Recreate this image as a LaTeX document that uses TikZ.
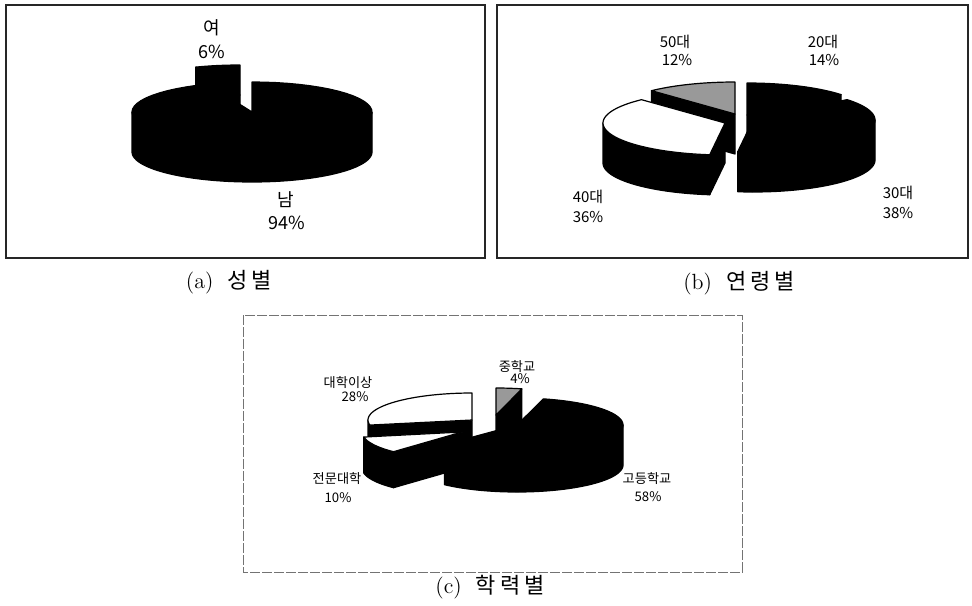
\documentclass[tikz,border=0pt]{standalone}
\usepackage{fontspec}
\newfontfamily\kr{Noto Sans CJK KR}
\newcommand\setpie[5]{\def\pcx{#1}\def\pcy{#2}\def\prx{#3}\def\pry{#4}\def\ph{#5}}
\newcommand\ptop[3]{%
  \filldraw[fill=#3,slice] ({\pcx},{\pcy}) -- plot[domain=#1:#2,samples=60] ({\pcx+\prx*cos(\x)},{\pcy-\pry*sin(\x)}) -- cycle;}
\newcommand\pside[3]{%
  \filldraw[fill=#3,slice] plot[domain=#1:#2,samples=60] ({\pcx+\prx*cos(\x)},{\pcy-\pry*sin(\x)}) -- plot[domain=#2:#1,samples=60] ({\pcx+\prx*cos(\x)},{\pcy+\ph-\pry*sin(\x)}) -- cycle;}
\newcommand\pcut[2]{%
  \filldraw[fill=#2,slice] ({\pcx},{\pcy}) -- ({\pcx+\prx*cos(#1)},{\pcy-\pry*sin(#1)}) -- ({\pcx+\prx*cos(#1)},{\pcy+\ph-\pry*sin(#1)}) -- ({\pcx},{\pcy+\ph}) -- cycle;}
\begin{document}
\begin{tikzpicture}[x=0.5pt,y=-0.5pt,
  slice/.style={draw=black,line width=0.6pt,line join=round},
  frameab/.style={draw=black!85,line width=0.7pt},
  framec/.style={draw=black!55,line width=0.5pt,dash pattern=on 5pt off 1pt},
  lbla/.style={font=\kr\fontsize{9}{9}\selectfont,inner sep=0pt},
  lblb/.style={font=\kr\fontsize{7.5}{7.5}\selectfont,inner sep=0pt},
  lblc/.style={font=\kr\fontsize{6.6}{6.6}\selectfont,inner sep=0pt},
  captxt/.style={font=\fontsize{11}{11}\selectfont,inner sep=0pt}]
\useasboundingbox (0,0) rectangle (972,605);
\fill[white] (0,0) rectangle (972,605);
% frames
\draw[frameab] (6,5) rectangle (485,258);
\draw[frameab] (497,5) rectangle (968,258);
\draw[framec] (243,315) rectangle (742,572);
% ---------- (a) ----------
\setpie{240}{95}{120}{30}{40}
\pcut{111.6}{black}
\ptop{90}{111.6}{black}
\setpie{252}{112}{120}{30}{40}
\pside{180}{360}{black}
\ptop{111.6}{450}{black}
\node[lbla] (a1) at (212,28) {여};
\node[lbla] (a2) at (212,52) {6\%};
\node[lbla] (a3) at (286,200) {남};
\node[lbla] (a4) at (287,223) {94\%};
\node[captxt] (capa) at (229,282) {(a)\hspace{7pt}{\kr 성\hspace{2pt}별}};
% ---------- (b) ----------
\setpie{735}{114}{122}{32}{40}
\pcut{133.2}{black}
\ptop{90}{133.2}{black!40}
\setpie{747}{115}{122}{32}{40}
\pcut{39.6}{black}
\ptop{39.6}{90}{black}
\setpie{725}{123}{122}{32}{40}
\pside{180}{262.8}{black}
\pcut{262.8}{black}
\ptop{133.2}{262.8}{white}
\setpie{753}{120}{122}{32}{40}
\pside{262.8}{360}{black}
\ptop{-97.2}{39.6}{black}
\node[lblb] (b1) at (675,42) {50대};
\node[lblb] (b2) at (677,60) {12\%};
\node[lblb] (b3) at (823,42) {20대};
\node[lblb] (b4) at (824,60) {14\%};
\node[lblb] (b5) at (588,197) {40대};
\node[lblb] (b6) at (588,217) {36\%};
\node[lblb] (b7) at (898,193) {30대};
\node[lblb] (b8) at (898,213) {38\%};
\node[captxt] (capb) at (739,283) {(b)\hspace{7pt}{\kr 연\hspace{2pt}령\hspace{2pt}별}};
% ---------- (c) ----------
\setpie{496}{415}{104}{27}{40}
\pcut{75.6}{black}
\ptop{75.6}{90}{black!40}
\setpie{472}{420}{104}{27}{40}
\pside{180}{190.8}{black}
\pcut{190.8}{black}
\ptop{90}{190.8}{white}
\setpie{517}{425}{106}{27}{40}
\pside{226.8}{360}{black}
\ptop{-133.2}{75.6}{black}
\setpie{462}{432}{100}{27}{36}
\pside{190.8}{226.8}{black}
\pcut{226.8}{black}
\ptop{190.8}{226.8}{white}
\node[lblc] (c1) at (517,367) {중학교};
\node[lblc] (c2) at (520,379) {4\%};
\node[lblc] (c3) at (348,383) {대학이상};
\node[lblc] (c4) at (355,397) {28\%};
\node[lblc] (c5) at (337,479) {전문대학};
\node[lblc] (c6) at (338,498) {10\%};
\node[lblc] (c7) at (647,479) {고등학교};
\node[lblc] (c8) at (648,497) {58\%};
\node[captxt] (capc) at (490,587) {(c)\hspace{7pt}{\kr 학\hspace{2pt}력\hspace{2pt}별}};
\end{tikzpicture}
\end{document}
